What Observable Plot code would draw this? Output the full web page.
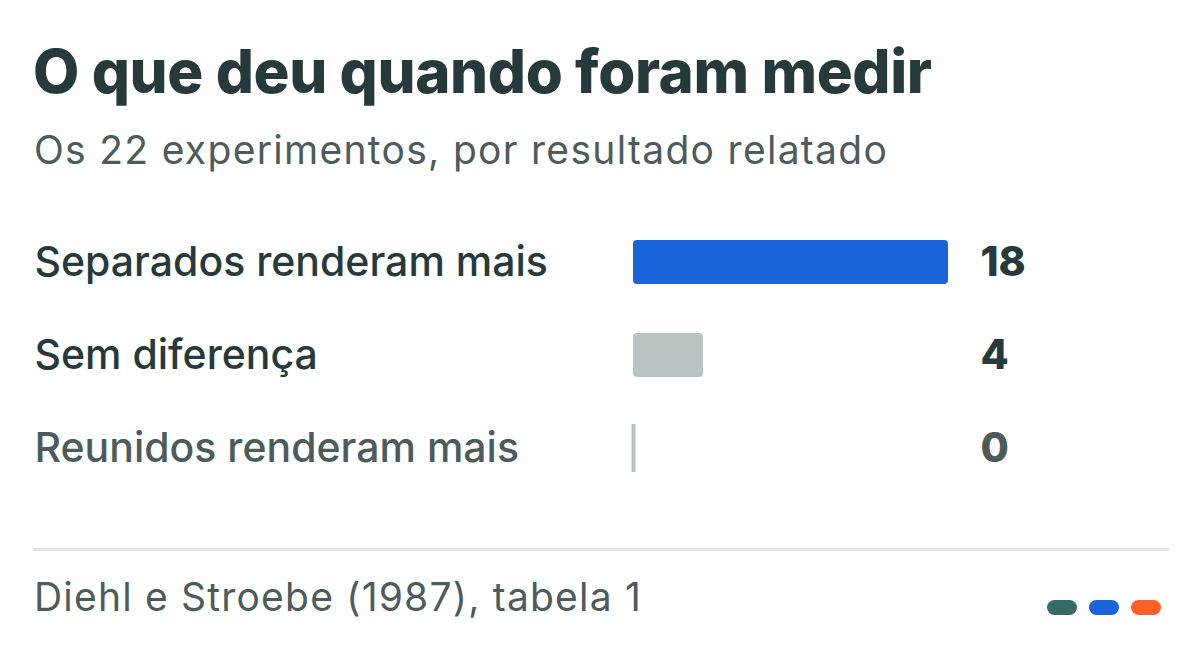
<!DOCTYPE html>
<html>
<head>
<meta charset="utf-8">
<script src="https://cdn.jsdelivr.net/npm/d3@7"></script>
<script src="https://cdn.jsdelivr.net/npm/@observablehq/plot@0.6"></script>
<style>
  html, body { margin: 0; padding: 0; background: #ffffff; }
  body { width: 1200px; height: 660px; position: relative; overflow: hidden; font-family: Inter, "Noto Sans", sans-serif; }
  .title { position: absolute; left: 33px; top: 41px; font-size: 60px; font-weight: 800; color: #263a3c; line-height: 1; white-space: nowrap; letter-spacing: -0.4px; }
  .subtitle { position: absolute; left: 34px; top: 130px; font-size: 39px; font-weight: 400; color: #4d5b5a; line-height: 1; white-space: nowrap; letter-spacing: 1.3px; }
  #chart { position: absolute; left: 0; top: 200px; }
  .divider { position: absolute; left: 33px; top: 548px; width: 1136px; height: 3px; background: #dfe6e5; }
  .caption { position: absolute; left: 34px; top: 577px; font-size: 39px; color: #4d5b5a; line-height: 1; white-space: nowrap; letter-spacing: 1.2px; }
  .pills { position: absolute; left: 1047px; top: 600px; display: flex; gap: 12px; }
  .pill { width: 30px; height: 15px; border-radius: 8px; }
</style>
</head>
<body>
<div class="title">O que deu quando foram medir</div>
<div class="subtitle">Os 22 experimentos, por resultado relatado</div>
<div id="chart"></div>
<div class="divider"></div>
<div class="caption">Diehl e Stroebe (1987), tabela 1</div>
<div class="pills" id="pills"></div>
<script>
const categories = ["Separados renderam mais", "Sem diferença", "Reunidos renderam mais"];
const counts = [18, 4, 0];
const barColors = ["#1a64d9", "#b8c4c4", "#b8c4c4"];
const labelColors = ["#263a3c", "#263a3c", "#4d5b5a"];
const pillColors = ["#356a66", "#1a64d9", "#fc5f28"];

const data = categories.map((c, i) => ({category: c, count: counts[i], bar: barColors[i], label: labelColors[i]}));

const chart = Plot.plot({
  width: 1200,
  height: 300,
  marginTop: 40,
  marginBottom: 30,
  marginLeft: 633,
  marginRight: 217,
  x: {domain: [0, 20], axis: null},
  y: {domain: categories, axis: null, paddingInner: 0.527, paddingOuter: 0},
  style: {fontFamily: "Inter, 'Noto Sans', sans-serif", background: "transparent"},
  marks: [
    Plot.barX(data.filter(d => d.count > 0), {x: "count", y: "category", fill: "bar", rx: 4}),
    Plot.tickX(data.filter(d => d.count === 0), {x: 0, y: "category", stroke: "bar", strokeWidth: 4, insetTop: -2, insetBottom: -2}),
    Plot.text(data, {y: "category", text: "category", frameAnchor: "left", textAnchor: "start", dx: -599, fill: "label", fontSize: 41, fontWeight: 500, letterSpacing: 0.3}),
    Plot.text(data, {y: "category", text: d => String(d.count), frameAnchor: "right", textAnchor: "start", dx: -3, fill: "label", fontSize: 41, fontWeight: 800})
  ]
});
document.getElementById("chart").appendChild(chart);

const pills = document.getElementById("pills");
pillColors.forEach(c => {
  const el = document.createElement("div");
  el.className = "pill";
  el.style.background = c;
  pills.appendChild(el);
});
</script>
</body>
</html>
